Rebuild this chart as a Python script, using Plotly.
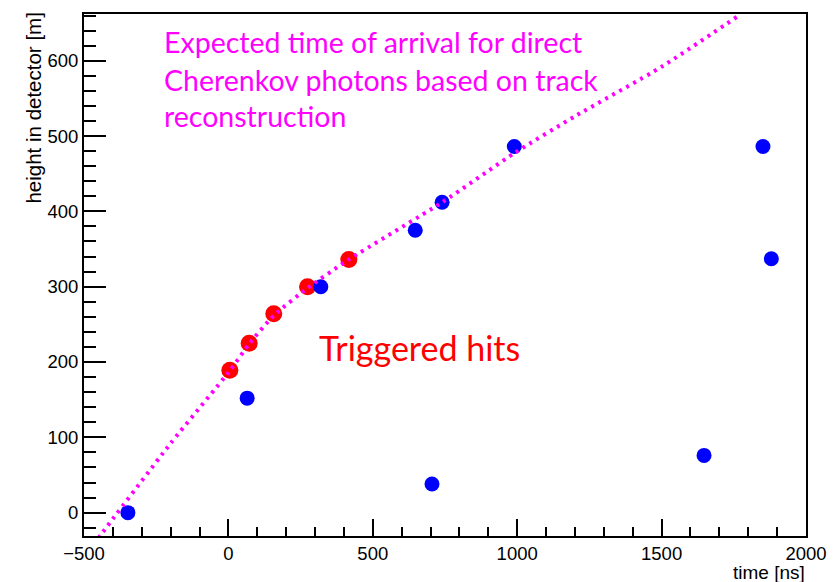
import plotly.graph_objects as go

# Data
blue_t = [-348, 65, 320, 647, 740, 990, 705, 1647, 1851, 1880]
blue_h = [0, 152, 300, 375, 412, 486, 38, 76, 486, 337]

red_t = [5, 72, 157, 274, 417]
red_h = [189, 225, 264, 300, 336]

line_t = [-450, -439, -200, 6, 72, 158, 274, 417, 740, 993, 1199, 1500, 1760]
line_h = [-34, -28, 92, 189, 224, 262, 298, 336, 412, 478, 526, 592, 658]

W, H = 839, 582
L, R, T, B = 83.5, 813.5, 12, 536


def px(x):
    return (x - L) / (R - L)


def py(y):
    return (B - y) / (B - T)


fig = go.Figure()
fig.add_trace(go.Scatter(x=red_t, y=red_h, mode="markers",
                         marker=dict(color="#ff0000", size=17), showlegend=False))
fig.add_trace(go.Scatter(x=blue_t, y=blue_h, mode="markers",
                         marker=dict(color="#0000ff", size=15), showlegend=False))
fig.add_trace(go.Scatter(x=line_t, y=line_h, mode="lines",
                         line=dict(color="#ff00ff", width=4, dash="3px,5px",
                                   shape="spline", smoothing=0.6),
                         showlegend=False))

tickfont = dict(family="Liberation Sans, Arial, sans-serif", size=18.5, color="black")

fig.update_xaxes(range=[-500, 2000], dtick=500, tick0=0, showgrid=False, zeroline=False,
                 showline=True, linecolor="black", linewidth=2, mirror=True,
                 ticks="inside", ticklen=17, tickwidth=2, tickcolor="black",
                 tickfont=tickfont,
                 minor=dict(dtick=100, ticks="inside", ticklen=9, tickwidth=2,
                            tickcolor="black", showgrid=False))
fig.update_yaxes(range=[-31, 662], dtick=100, tick0=0, showgrid=False, zeroline=False,
                 showline=True, linecolor="black", linewidth=2, mirror=True,
                 ticks="inside", ticklen=22, tickwidth=2, tickcolor="black",
                 tickfont=tickfont,
                 minor=dict(dtick=20, ticks="inside", ticklen=12, tickwidth=2,
                            tickcolor="black", showgrid=False))

anns = []
magenta = dict(family="Lato, sans-serif", size=28.5, color="#ff00ff")
for txt, yc in [("Expected time of arrival for direct", 40),
                ("Cherenkov photons based on track", 78),
                ("reconstruction", 114)]:
    anns.append(dict(text=txt, xref="paper", yref="paper", x=px(162), y=py(yc),
                     xanchor="left", yanchor="middle", showarrow=False, font=magenta))
anns.append(dict(text="Triggered hits", xref="paper", yref="paper", x=px(319), y=py(347),
                 xanchor="left", yanchor="middle", showarrow=False,
                 font=dict(family="Lato, sans-serif", size=34, color="#ff0000")))
anns.append(dict(text="height in detector [m]", xref="paper", yref="paper",
                 x=px(32), y=py(9), xanchor="center", yanchor="top", textangle=-90,
                 showarrow=False,
                 font=dict(family="Liberation Sans, Arial, sans-serif", size=20.5, color="black")))
anns.append(dict(text="time [ns]", xref="paper", yref="paper",
                 x=px(813), y=py(584), xanchor="right", yanchor="bottom",
                 showarrow=False, borderpad=0,
                 font=dict(family="Liberation Sans, Arial, sans-serif", size=19, color="black")))

fig.update_layout(width=W, height=H, paper_bgcolor="white", plot_bgcolor="white",
                  margin=dict(l=L, r=W - R, t=T, b=H - B), annotations=anns)

fig.write_html("out.html")
